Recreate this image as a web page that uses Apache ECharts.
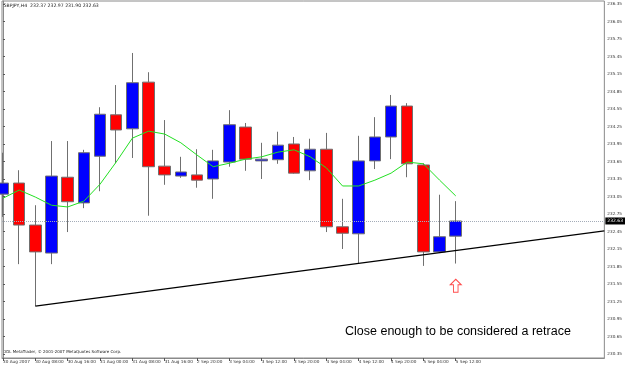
<!DOCTYPE html>
<html>
<head>
<meta charset="utf-8">
<script src="https://cdn.jsdelivr.net/npm/echarts@6/dist/echarts.min.js"></script>
<style>html,body{margin:0;padding:0;background:#fff}#c{width:625px;height:367px}</style>
</head>
<body>
<div id="c"></div>
<script>
var categories = ["30 Aug 2007","30 Aug 04:00","30 Aug 08:00","30 Aug 12:00","30 Aug 16:00","30 Aug 20:00",
  "31 Aug 00:00","31 Aug 04:00","31 Aug 08:00","31 Aug 12:00","31 Aug 16:00","31 Aug 20:00",
  "2 Sep 20:00","3 Sep 00:00","3 Sep 04:00","3 Sep 08:00","3 Sep 12:00","3 Sep 16:00","3 Sep 20:00",
  "4 Sep 00:00","4 Sep 04:00","4 Sep 08:00","4 Sep 12:00","4 Sep 16:00","4 Sep 20:00",
  "5 Sep 00:00","5 Sep 04:00","5 Sep 08:00","5 Sep 12:00"];
var opens  = [233.09,233.28,232.56,232.08,233.38,232.94,233.74,234.45,234.21,235.01,233.57,233.40,233.42,233.35,233.64,234.24,233.66,233.68,233.95,233.49,233.86,232.53,232.41,233.66,234.07,234.60,233.59,232.10,232.37];
var closes = [233.28,232.56,232.10,233.40,232.96,233.80,234.46,234.19,235.00,233.56,233.42,233.47,233.33,233.66,234.28,233.69,233.69,233.93,233.45,233.86,232.53,232.42,233.66,234.07,234.60,233.61,232.10,232.36,232.63];
var highs  = [233.80,233.50,232.90,234.00,234.00,233.85,234.58,234.96,235.51,235.18,234.36,233.73,233.86,233.85,234.53,234.31,233.97,234.16,234.07,234.04,234.14,233.01,234.09,234.41,234.79,234.65,233.62,233.08,232.97];
var lows   = [232.70,231.89,231.17,231.89,232.44,232.85,233.14,233.62,233.71,232.72,233.25,233.37,233.20,233.01,233.56,233.49,233.35,233.61,233.44,233.33,232.44,232.15,231.91,233.52,233.69,233.38,231.86,232.08,231.90];
var maValues = [233.02,233.16,233.04,232.90,232.87,232.97,233.26,233.64,234.05,234.17,234.12,233.97,233.76,233.56,233.62,233.69,233.73,233.81,233.85,233.73,233.54,233.23,233.23,233.33,233.45,233.64,233.61,233.33,233.06];
var yTicks = [230.35,230.65,230.95,231.25,231.55,231.85,232.15,232.45,232.75,233.05,233.35,233.65,233.95,234.25,234.55,234.85,235.15,235.45,235.75,236.05,236.35];
var xTickIdx = [0,2,4,6,8,10,12,14,16,18,20,22,24,26,28];
var trendline = [[2, 231.17],[37.19, 232.46]];
var bidPrice = 232.63;
var arrowPoint = [[28, 231.52]];
var title = "GBPJPY,H4  232.37 232.97 231.90 232.63";
var copyright = "ODL MetaTrader, \u00a9 2001-2007 MetaQuotes Software Corp.";
var note = "Close enough to be considered a retrace";

var candleData = opens.map(function(o,i){ return [i, o, closes[i], lows[i], highs[i]]; });
var maData = maValues.map(function(v,i){ return [i, v]; });

var chart = echarts.init(document.getElementById('c'), null, {renderer:'canvas'});
chart.setOption({
  animation: false,
  backgroundColor: '#ffffff',
  grid: {left: 1, top: 1, right: 20, bottom: 9, show: true, borderColor: '#8a8a8a', borderWidth: 1, backgroundColor: '#fff'},
  xAxis: {
    type: 'value', min: -0.0617, max: 37.19,
    splitLine: {show: false},
    axisLine: {show: true, lineStyle: {color: '#8a8a8a'}},
    axisTick: {show: true, customValues: xTickIdx, length: 3, lineStyle: {color: '#555'}},
    axisLabel: {customValues: xTickIdx, align: 'left', margin: 2, fontSize: 4.2, color: '#333',
      fontFamily: 'DejaVu Sans', formatter: function(v){ return categories[Math.round(v)] || ''; }}
  },
  yAxis: {
    type: 'value', position: 'right', min: 230.281, max: 236.401, scale: true,
    splitLine: {show: false},
    axisLine: {show: true, lineStyle: {color: '#8a8a8a'}},
    axisTick: {show: true, customValues: yTicks, length: 2, lineStyle: {color: '#555'}},
    axisLabel: {customValues: yTicks, margin: 3, fontSize: 4.2, color: '#333', fontFamily: 'DejaVu Sans',
      formatter: function(v){ return v.toFixed(2); }}
  },
  series: [
    {
      type: 'candlestick', data: candleData, encode: {x: 0, y: [1,2,3,4]},
      barWidth: 12, clip: true,
      itemStyle: {color: '#0000ff', color0: '#ff0000', borderColor: '#707070', borderColor0: '#707070', borderWidth: 1},
      markLine: {
        silent: true, symbol: ['none','none'],
        lineStyle: {color: '#a4acb8', type: 'dotted', width: 1},
        label: {show: true, position: 'end', distance: 1, formatter: bidPrice.toFixed(2),
          backgroundColor: '#000', color: '#fff', fontSize: 4.5, padding: [1,2], fontFamily: 'DejaVu Sans'},
        data: [{yAxis: bidPrice}]
      },
      z: 2
    },
    {
      type: 'line', data: maData, showSymbol: false, symbol: 'none',
      lineStyle: {color: '#22e022', width: 1}, z: 3, clip: true
    },
    {
      type: 'line', data: trendline, showSymbol: false, symbol: 'none',
      lineStyle: {color: '#000', width: 1.2}, z: 4, clip: true
    },
    {
      type: 'scatter', data: arrowPoint,
      symbol: 'path://M6,0 L12,6 L8.5,6 L8.5,14 L3.5,14 L3.5,6 L0,6 Z',
      symbolSize: [11, 13],
      itemStyle: {color: '#ffffff', borderColor: '#ff2020', borderWidth: 1}, z: 5
    }
  ],
  graphic: [
    {type: 'text', left: 3, top: 3, style: {text: title, fontSize: 4.6, fill: '#222', fontFamily: 'DejaVu Sans'}},
    {type: 'text', left: 3, top: 350, style: {text: copyright, fontSize: 4, fill: '#222', fontFamily: 'DejaVu Sans'}},
    {type: 'text', left: 345, top: 325, style: {text: note, fontSize: 12.5, fill: '#000', fontFamily: 'Liberation Sans'}}
  ]
});
</script>
</body>
</html>
